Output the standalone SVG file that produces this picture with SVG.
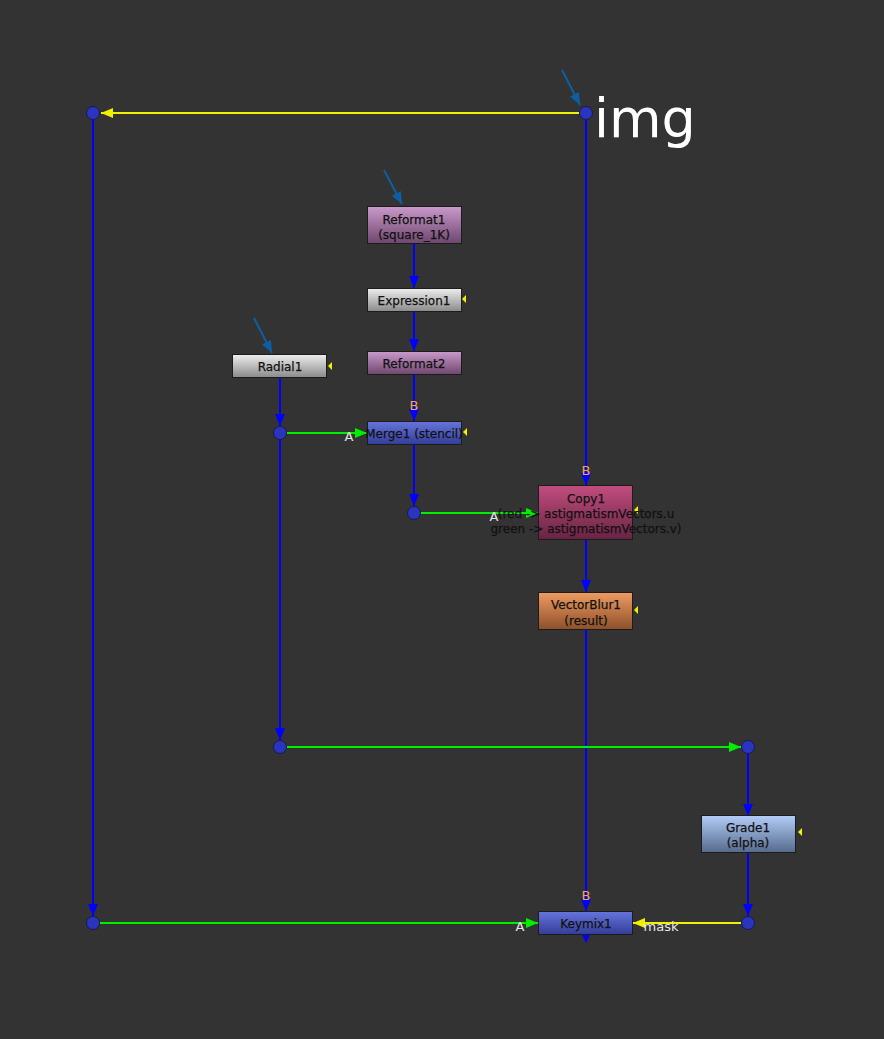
<svg xmlns="http://www.w3.org/2000/svg" width="884" height="1039" viewBox="0 0 884 1039">
<defs>
<style>
.lbl{font-family:"DejaVu Sans",Verdana,sans-serif;font-size:12px;fill:#111;stroke:#111;stroke-width:0.25;text-anchor:middle}
.pb{font-family:"DejaVu Sans",Verdana,sans-serif;font-size:13px;fill:#f5a855;text-anchor:middle}
.pa{font-family:"DejaVu Sans",Verdana,sans-serif;font-size:13px;fill:#e6e6e6;text-anchor:middle}
.box{stroke:#1c1c1c;stroke-width:1}
.dot{fill:#2a34bc;stroke:#151a55;stroke-width:1}
.bl{stroke:#0000ff;stroke-width:2;fill:none}
.gr{stroke:#00ee00;stroke-width:2;fill:none}
.ye{stroke:#f0f000;stroke-width:2;fill:none}
.ptr{stroke:#0d5fa3;stroke-width:2;fill:none}
.tri{fill:#f0f000}
</style>
<linearGradient id="gPur" x1="0" y1="0" x2="0" y2="1"><stop offset="0" stop-color="#c99acb"/><stop offset="1" stop-color="#6e466e"/></linearGradient>
<linearGradient id="gGry" x1="0" y1="0" x2="0" y2="1"><stop offset="0" stop-color="#eeeeee"/><stop offset="1" stop-color="#8a8a8a"/></linearGradient>
<linearGradient id="gBlu" x1="0" y1="0" x2="0" y2="1"><stop offset="0" stop-color="#6675dc"/><stop offset="1" stop-color="#333d98"/></linearGradient>
<linearGradient id="gCop" x1="0" y1="0" x2="0" y2="1"><stop offset="0" stop-color="#c24e7e"/><stop offset="1" stop-color="#672343"/></linearGradient>
<linearGradient id="gOra" x1="0" y1="0" x2="0" y2="1"><stop offset="0" stop-color="#f09b62"/><stop offset="1" stop-color="#8c5029"/></linearGradient>
<linearGradient id="gGra" x1="0" y1="0" x2="0" y2="1"><stop offset="0" stop-color="#b2cdf8"/><stop offset="1" stop-color="#566a8c"/></linearGradient>
<marker id="aB" markerUnits="userSpaceOnUse" markerWidth="12" markerHeight="12" refX="12" refY="5" orient="auto"><path d="M0,0 L12,5 L0,10 Z" fill="#0000ff"/></marker>
<marker id="aG" markerUnits="userSpaceOnUse" markerWidth="12" markerHeight="12" refX="12" refY="5" orient="auto"><path d="M0,0 L12,5 L0,10 Z" fill="#00ee00"/></marker>
<marker id="aY" markerUnits="userSpaceOnUse" markerWidth="12" markerHeight="12" refX="12" refY="5" orient="auto"><path d="M0,0 L12,5 L0,10 Z" fill="#f0f000"/></marker>
<marker id="aP" markerUnits="userSpaceOnUse" markerWidth="14" markerHeight="14" refX="12" refY="5" orient="auto"><path d="M0,0 L12,5 L0,10 Z" fill="#0d5fa3"/></marker>
</defs>
<rect x="0" y="0" width="884" height="1039" fill="#333333"/>

<g id="connectors">
<line class="ye" x1="580" y1="113" x2="101" y2="113" marker-end="url(#aY)"/>
<line class="bl" x1="93" y1="119" x2="93" y2="916" marker-end="url(#aB)"/>
<line class="bl" x1="586" y1="119" x2="586" y2="485" marker-end="url(#aB)"/>
<line class="bl" x1="414" y1="243" x2="414" y2="288" marker-end="url(#aB)"/>
<line class="bl" x1="414" y1="311" x2="414" y2="351" marker-end="url(#aB)"/>
<line class="bl" x1="414" y1="374" x2="414" y2="421" marker-end="url(#aB)"/>
<line class="bl" x1="280" y1="377" x2="280" y2="426" marker-end="url(#aB)"/>
<line class="gr" x1="287" y1="433" x2="367" y2="433" marker-end="url(#aG)"/>
<line class="bl" x1="280" y1="439" x2="280" y2="740" marker-end="url(#aB)"/>
<line class="bl" x1="414" y1="444" x2="414" y2="506" marker-end="url(#aB)"/>
<line class="gr" x1="421" y1="513" x2="538" y2="513" marker-end="url(#aG)"/>
<line class="bl" x1="586" y1="539" x2="586" y2="592" marker-end="url(#aB)"/>
<line class="bl" x1="586" y1="629" x2="586" y2="911" marker-end="url(#aB)"/>
<line class="gr" x1="287" y1="747" x2="741" y2="747" marker-end="url(#aG)"/>
<line class="bl" x1="748" y1="754" x2="748" y2="816" marker-end="url(#aB)"/>
<line class="bl" x1="748" y1="852" x2="748" y2="916" marker-end="url(#aB)"/>
<line class="ye" x1="741" y1="923" x2="633" y2="923" marker-end="url(#aY)"/>
<line class="gr" x1="100" y1="923" x2="538" y2="923" marker-end="url(#aG)"/>
<path d="M582,935 L590,935 L586,943 Z" fill="#0000ff"/>
<line class="ptr" x1="562" y1="70" x2="580" y2="105" marker-end="url(#aP)"/>
<line class="ptr" x1="384" y1="170" x2="402" y2="204" marker-end="url(#aP)"/>
<line class="ptr" x1="254" y1="318" x2="272" y2="353" marker-end="url(#aP)"/>
<text class="pb" x="586" y="475">B</text>
<text class="pb" x="414" y="410">B</text>
<text class="pb" x="586" y="900">B</text>
<text class="pa" x="349" y="441">A</text>
<text class="pa" x="494" y="521">A</text>
<text class="pa" x="520" y="931">A</text>
<text class="pa" x="661" y="931">mask</text>
</g>

<g id="dot-img"><circle class="dot" cx="586" cy="113" r="6.5"/><text x="594" y="137" font-family="DejaVu Sans,Verdana,sans-serif" font-size="54" fill="#ffffff">img</text></g>
<g id="dot-1"><circle class="dot" cx="93" cy="113" r="6.5"/></g>
<g id="dot-2"><circle class="dot" cx="280" cy="433" r="6.5"/></g>
<g id="dot-3"><circle class="dot" cx="414" cy="513" r="6.5"/></g>
<g id="dot-4"><circle class="dot" cx="280" cy="747" r="6.5"/></g>
<g id="dot-5"><circle class="dot" cx="748" cy="747" r="6.5"/></g>
<g id="dot-6"><circle class="dot" cx="93" cy="923" r="6.5"/></g>
<g id="dot-7"><circle class="dot" cx="748" cy="923" r="6.5"/></g>

<g id="Reformat1"><rect class="box" x="367.5" y="206.5" width="94" height="37" fill="url(#gPur)"/><text class="lbl" x="414" y="224">Reformat1</text><text class="lbl" x="414" y="239">(square_1K)</text></g>
<g id="Expression1"><rect class="box" x="367.5" y="288.5" width="94" height="23" fill="url(#gGry)"/><text class="lbl" x="414" y="305">Expression1</text><path class="tri" d="M466,295 L466,303 L462,299 Z"/></g>
<g id="Reformat2"><rect class="box" x="367.5" y="351.5" width="94" height="23" fill="url(#gPur)"/><text class="lbl" x="414" y="368">Reformat2</text></g>
<g id="Radial1"><rect class="box" x="232.5" y="354.5" width="94" height="23" fill="url(#gGry)"/><text class="lbl" x="280" y="371">Radial1</text><path class="tri" d="M332,362 L332,370 L328,366 Z"/></g>
<g id="Merge1"><rect class="box" x="367.5" y="421.5" width="94" height="23" fill="url(#gBlu)"/><text class="lbl" x="414" y="438">Merge1 (stencil)</text><path class="tri" d="M467,428 L467,436 L463,432 Z"/></g>
<g id="Copy1"><rect class="box" x="538.5" y="485.5" width="94" height="54" fill="url(#gCop)"/><path class="tri" d="M638,506 L638,514 L634,510 Z"/><text class="lbl" x="586" y="503">Copy1</text><text class="lbl" x="586" y="518">(red -&gt; astigmatismVectors.u</text><text class="lbl" x="586" y="533">green -&gt; astigmatismVectors.v)</text></g>
<g id="VectorBlur1"><rect class="box" x="538.5" y="592.5" width="94" height="37" fill="url(#gOra)"/><text class="lbl" x="586" y="609">VectorBlur1</text><text class="lbl" x="586" y="625">(result)</text><path class="tri" d="M638,606 L638,614 L634,610 Z"/></g>
<g id="Grade1"><rect class="box" x="701.5" y="815.5" width="94" height="37" fill="url(#gGra)"/><text class="lbl" x="748" y="832">Grade1</text><text class="lbl" x="748" y="847">(alpha)</text><path class="tri" d="M802,828 L802,836 L798,832 Z"/></g>
<g id="Keymix1"><rect class="box" x="538.5" y="911.5" width="94" height="23" fill="url(#gBlu)"/><text class="lbl" x="586" y="928">Keymix1</text></g>
</svg>
